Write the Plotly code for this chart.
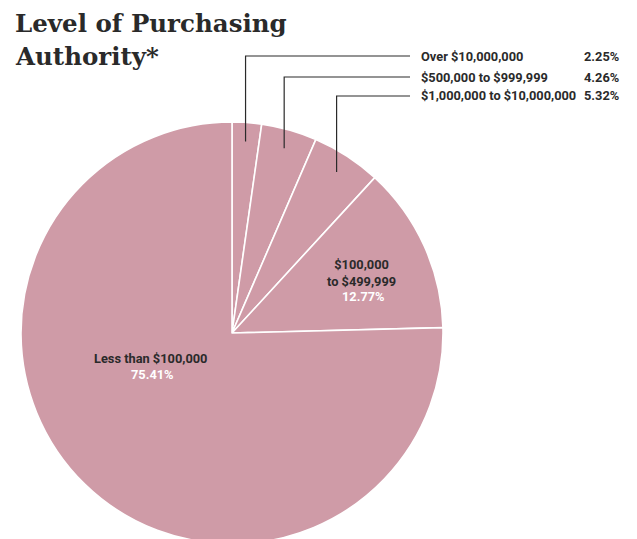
import math
import plotly.graph_objects as go

W, H = 637, 539
OFF = 8  # page body margin offset (screen px)

# ---- data ----
categories = ["Over $10,000,000", "$500,000 to $999,999", "$1,000,000 to $10,000,000",
              "$100,000 to $499,999", "Less than $100,000"]
values = [2.25, 4.26, 5.32, 12.77, 75.41]
pct_labels = ["2.25%", "4.26%", "5.32%", "12.77%", "75.41%"]
title_lines = ["Level of Purchasing", "Authority*"]

# ---- layout geometry (screen pixels) ----
CX, CY, R = 232, 333, 211
PIE_COLOR = "#CF9BA7"
DARK = "#2a2a2a"
FONT = "Roboto"
FS = 12.8


def px(x):
    return (x - OFF) / W


def py(y):
    return 1 - (y - OFF) / H


fig = go.Figure(go.Pie(
    labels=categories,
    values=values,
    sort=False,
    direction="clockwise",
    rotation=0,
    textinfo="none",
    hoverinfo="label+percent",
    marker=dict(colors=[PIE_COLOR] * len(values), line=dict(color="white", width=1.6)),
    domain=dict(x=[px(CX - R), px(CX + R)], y=[py(CY + R), py(CY - R)]),
    showlegend=False,
))

annotations = []
shapes = []

# title
for t, y in zip(title_lines, [23, 56]):
    annotations.append(dict(x=px(13), y=py(y), xref="paper", yref="paper", text=f"<b>{t}</b>",
                            showarrow=False, xanchor="left", yanchor="middle",
                            font=dict(family="DejaVu Serif", size=24.5, color=DARK)))

# leader lines + outside labels for the three small slices
rows_y = [56, 77, 96]
total = sum(values)
cum = 0
for i, v in enumerate(values):
    mid = 2 * math.pi * (cum + v / 2) / total
    cum += v
    if i < 3:
        ex = CX + 0.91 * R * math.sin(mid)
        ey = CY - 0.91 * R * math.cos(mid)
        ry = rows_y[i]
        shapes.append(dict(type="path", xref="paper", yref="paper",
                           path=f"M {px(ex)},{py(ey)} L {px(ex)},{py(ry)} L {px(410)},{py(ry)}",
                           line=dict(color=DARK, width=1.2)))
        annotations.append(dict(x=px(419), y=py(ry), xref="paper", yref="paper",
                                text=f"<b>{categories[i]}</b>", showarrow=False,
                                xanchor="left", yanchor="middle",
                                font=dict(family=FONT, size=FS, color=DARK)))
        annotations.append(dict(x=px(621), y=py(ry), xref="paper", yref="paper",
                                text=f"<b>{pct_labels[i]}</b>", showarrow=False,
                                xanchor="right", yanchor="middle",
                                font=dict(family=FONT, size=FS, color=DARK)))

# inside labels
inside = [
    (3, "$100,000<br>to $499,999", 361, 273, 296),
    (4, "Less than $100,000", 150, 358, 374),
]
for idx, txt, x, y1, y2 in inside:
    annotations.append(dict(x=px(x), y=py(y1), xref="paper", yref="paper", text=f"<b>{txt}</b>",
                            showarrow=False, xanchor="center", yanchor="middle",
                            font=dict(family=FONT, size=FS, color=DARK)))
    annotations.append(dict(x=px(x + 2), y=py(y2), xref="paper", yref="paper",
                            text=f"<b>{pct_labels[idx]}</b>", showarrow=False,
                            xanchor="center", yanchor="middle",
                            font=dict(family=FONT, size=FS, color="white")))

fig.update_layout(
    width=W, height=H,
    margin=dict(l=0, r=0, t=0, b=0),
    paper_bgcolor="white", plot_bgcolor="white",
    annotations=annotations, shapes=shapes,
)

fig.write_html("out.html")
